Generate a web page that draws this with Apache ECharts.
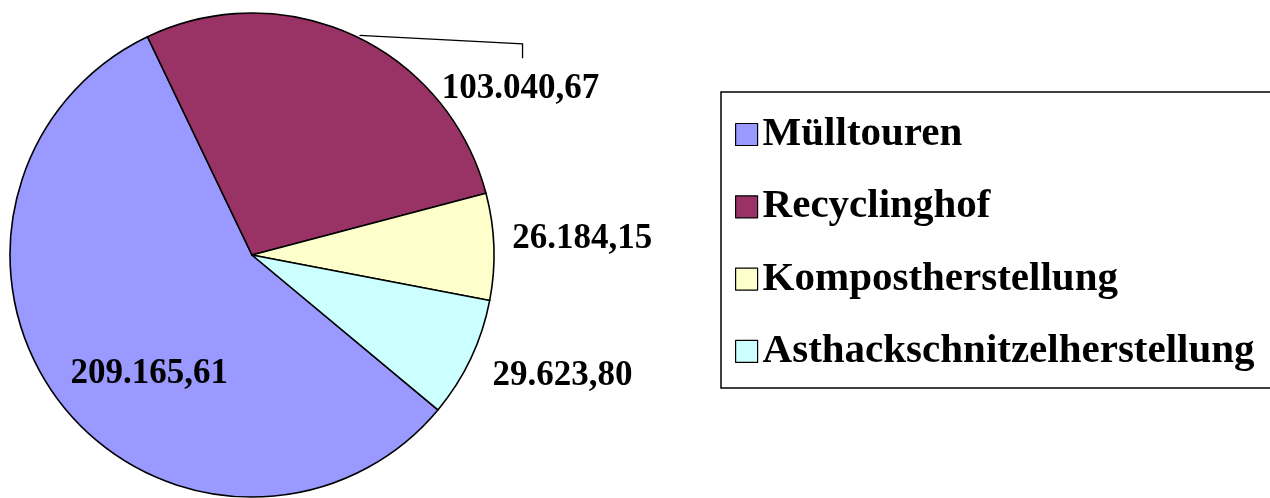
<!DOCTYPE html>
<html>
<head>
<meta charset="utf-8">
<script src="https://cdn.jsdelivr.net/npm/echarts@6/dist/echarts.min.js"></script>
<style>
html, body { margin: 0; padding: 0; background: #fff; }
#chart { width: 1270px; height: 498px; }
</style>
</head>
<body>
<div id="chart"></div>
<script>
const categories = ['Mülltouren', 'Recyclinghof', 'Kompostherstellung', 'Asthackschnitzelherstellung'];
const values = [209165.61, 103040.67, 26184.15, 29623.80];
const colors = ['#9999FF', '#993366', '#FFFFCC', '#CCFFFF'];

// label centre offsets (style): relative to slice edge for outside labels, to default spot for inside label
const labelOffsets = [[-5, 43], [167, 54], [88.5, -7.6], [91.7, 17.6]];
const FONT = '"Liberation Serif", "Times New Roman", serif';

function fmt(v) {
  const parts = v.toFixed(2).split('.');
  return parts[0].replace(/\B(?=(\d{3})+(?!\d))/g, '.') + ',' + parts[1];
}

const chart = echarts.init(document.getElementById('chart'), null, { renderer: 'canvas' });

const data = categories.map(function (name, i) {
  const item = { name: name, value: values[i], itemStyle: { color: colors[i] } };
  if (i === 0) {
    item.label = { position: 'inside' };
  } else if (i === 1) {
    item.labelLine = { show: true };
  } else {
    item.labelLine = { show: false };
  }
  return item;
});

chart.setOption({
  animation: false,
  backgroundColor: '#ffffff',
  legend: {
    orient: 'vertical',
    left: 721,
    top: 92,
    padding: [22, 18, 16, 14],
    itemGap: 31.3,
    itemWidth: 22,
    itemHeight: 22,
    icon: 'rect',
    borderColor: '#000000',
    borderWidth: 1.5,
    itemStyle: { borderColor: '#000000', borderWidth: 1.2 },
    selectedMode: false,
    textStyle: {
      fontFamily: FONT,
      fontWeight: 'bold',
      fontSize: 41,
      lineHeight: 41,
      color: '#000'
    },
    data: categories
  },
  series: [{
    type: 'pie',
    center: [252, 255],
    radius: 242,
    startAngle: 320.2,
    clockwise: true,
    avoidLabelOverlap: false,
    silent: true,
    itemStyle: { borderColor: '#000', borderWidth: 1.6 },
    label: {
      show: true,
      position: 'outside',
      formatter: function (p) { return fmt(p.value); },
      fontFamily: FONT,
      fontWeight: 'bold',
      fontSize: 35,
      color: '#000'
    },
    labelLine: {
      length: 0,
      length2: 0,
      lineStyle: { color: '#000', width: 1.3 }
    },
    labelLayout: function (p) {
      const o = labelOffsets[p.dataIndex];
      const r = p.labelRect;
      let ex, ey;
      if (p.dataIndex === 0) {
        ex = r.x + r.width / 2;
        ey = r.y + r.height / 2;
      } else if (p.labelLinePoints && p.labelLinePoints.length) {
        ex = p.labelLinePoints[0][0];
        ey = p.labelLinePoints[0][1];
      } else {
        ex = r.x - 5;
        ey = r.y + r.height / 2;
      }
      const cx = ex + o[0];
      const cy = ey + o[1];
      const res = { x: cx, y: cy, align: 'center', verticalAlign: 'middle' };
      if (p.dataIndex === 1) {
        res.labelLinePoints = [[ex + 6, ey], [cx + 2, cy - 45.5], [cx + 2, cy - 31]];
      }
      return res;
    },
    data: data
  }]
});
</script>
</body>
</html>
